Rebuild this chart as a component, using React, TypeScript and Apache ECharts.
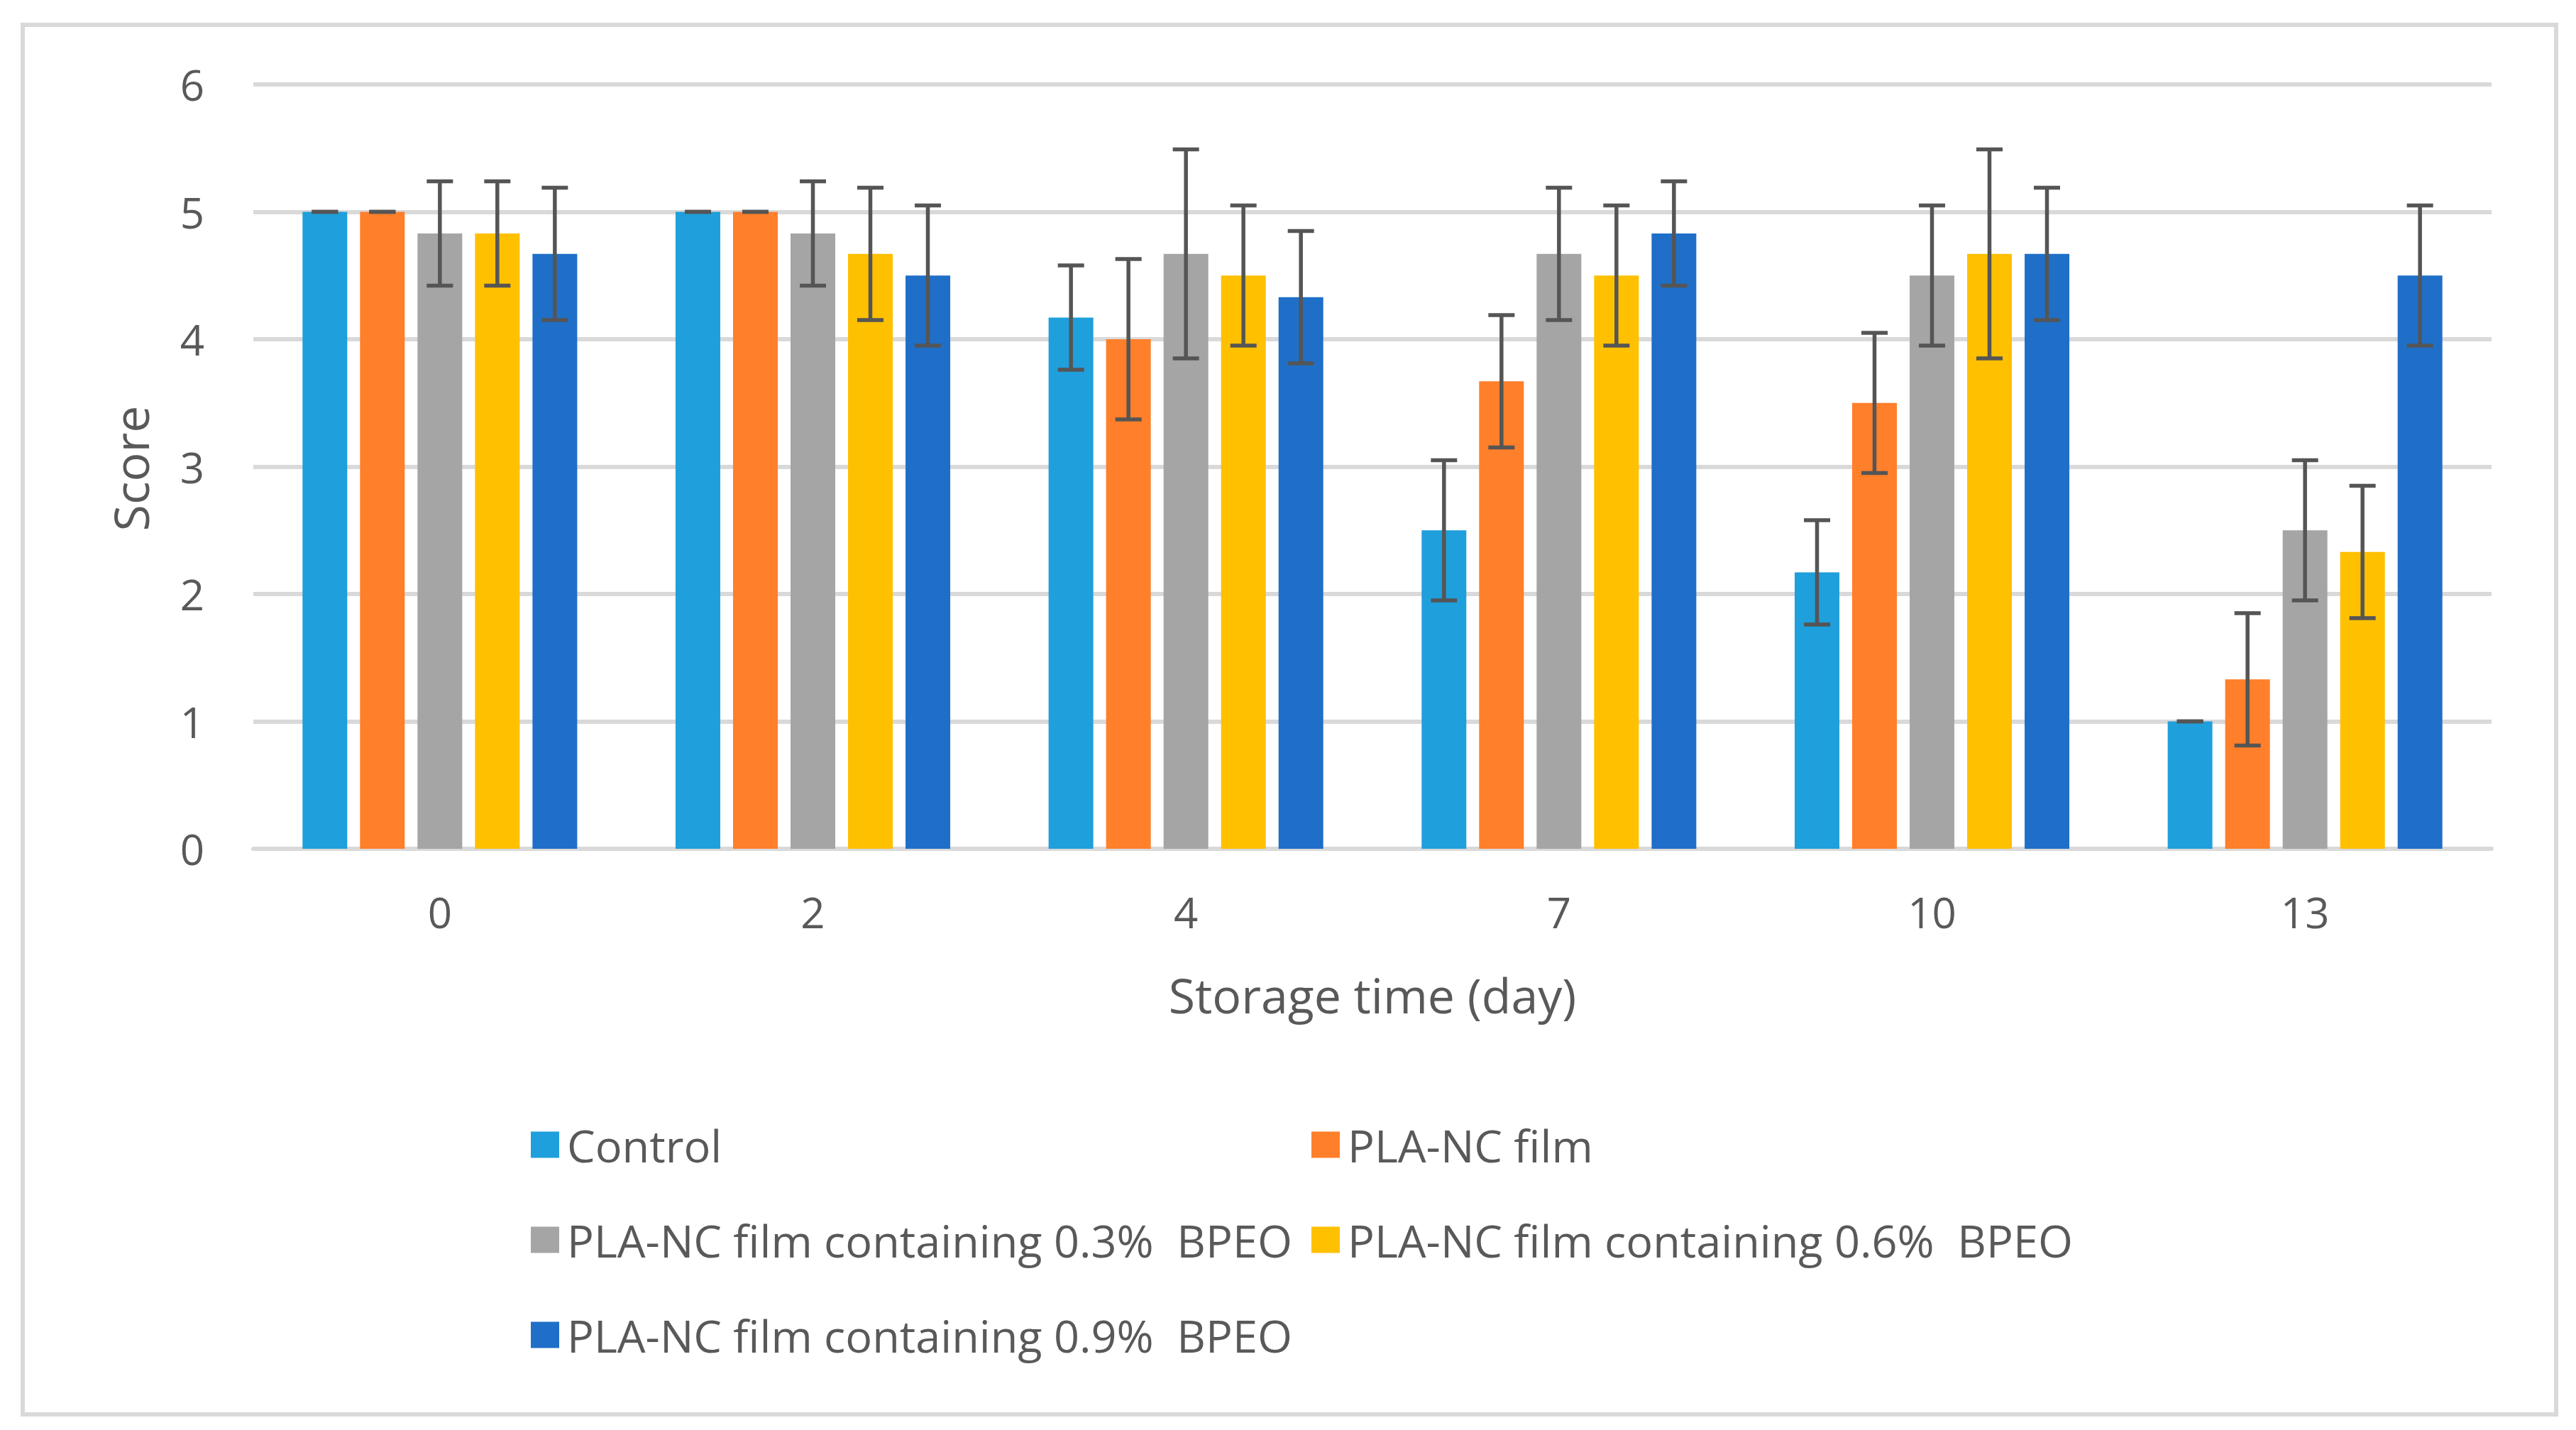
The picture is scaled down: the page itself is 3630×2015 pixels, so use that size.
import React, { useEffect, useRef } from "react";
import * as echarts from "echarts";

const categories = ["0", "2", "4", "7", "10", "13"];
const seriesNames = [
  "Control",
  "PLA-NC film",
  "PLA-NC film containing 0.3%  BPEO",
  "PLA-NC film containing 0.6%  BPEO",
  "PLA-NC film containing 0.9%  BPEO",
];
const colors = ["#1F9FDB", "#FF7F2A", "#A5A5A5", "#FFC000", "#1F6FC8"];

const control = [5, 5, 4.17, 2.5, 2.17, 1];
const controlErr = [0, 0, 0.41, 0.55, 0.41, 0];
const plaNc = [5, 5, 4, 3.67, 3.5, 1.33];
const plaNcErr = [0, 0, 0.63, 0.52, 0.55, 0.52];
const bpeo03 = [4.83, 4.83, 4.67, 4.67, 4.5, 2.5];
const bpeo03Err = [0.41, 0.41, 0.82, 0.52, 0.55, 0.55];
const bpeo06 = [4.83, 4.67, 4.5, 4.5, 4.67, 2.33];
const bpeo06Err = [0.41, 0.52, 0.55, 0.55, 0.82, 0.52];
const bpeo09 = [4.67, 4.5, 4.33, 4.83, 4.67, 4.5];
const bpeo09Err = [0.52, 0.55, 0.52, 0.41, 0.52, 0.55];

const yTicks = { min: 0, max: 6, interval: 1 };

const means = [control, plaNc, bpeo03, bpeo06, bpeo09];
const errs = [controlErr, plaNcErr, bpeo03Err, bpeo06Err, bpeo09Err];

const FONT = "'Open Sans', 'Noto Sans', sans-serif";
const TEXT = "#595959";
const GRID = "#D9D9D9";
const BAR_W = 63;
const BAR_GAP = 18;
const CAP = 37;

export default function App() {
  const ref = useRef<HTMLDivElement>(null);
  useEffect(() => {
    if (!ref.current) return;
    const chart = echarts.init(ref.current, null, { renderer: "svg" });
    const n = seriesNames.length;
    const bars = seriesNames.map((name, i) => ({
      name,
      type: "bar",
      data: means[i],
      barWidth: BAR_W,
      barGap: ((BAR_GAP / BAR_W) * 100).toFixed(1) + "%",
      itemStyle: { color: colors[i] },
      z: 2,
    }));
    const errorSeries = seriesNames.map((name, i) => {
      const offset = (i - (n - 1) / 2) * (BAR_W + BAR_GAP);
      return {
        name: name + " err",
        type: "custom",
        z: 10,
        encode: { x: 0, y: 1 },
        data: categories.map((_, k) => [k, means[i][k], errs[i][k]]),
        renderItem: (params: any, api: any) => {
          const cat = api.value(0);
          const mean = api.value(1);
          const e = api.value(2);
          const x = api.coord([cat, mean])[0] + offset;
          const yTop = api.coord([cat, mean + e])[1];
          const yBot = api.coord([cat, mean - e])[1];
          const h = CAP / 2;
          const style = { stroke: "#555555", lineWidth: 5.5 };
          return {
            type: "group",
            children: [
              { type: "line", shape: { x1: x, y1: yTop, x2: x, y2: yBot }, style },
              { type: "line", shape: { x1: x - h, y1: yTop, x2: x + h, y2: yTop }, style },
              { type: "line", shape: { x1: x - h, y1: yBot, x2: x + h, y2: yBot }, style },
            ],
          };
        },
      };
    });

    const legendCommon = {
      orient: "vertical",
      top: 1573,
      itemGap: 64,
      itemWidth: 40,
      itemHeight: 37,
      icon: "rect",
      selectedMode: false,
      textStyle: {
        fontFamily: FONT,
        fontSize: 63,
        color: TEXT,
        lineHeight: 70,
        padding: [0, 0, 0, 6],
      },
    };

    const option = {
      animation: false,
      backgroundColor: "#ffffff",
      textStyle: { fontFamily: FONT },
      grid: { left: 357, right: 119, top: 119, bottom: 819 },
      xAxis: {
        type: "category",
        data: categories,
        axisTick: { show: false },
        axisLine: { lineStyle: { color: GRID, width: 6 } },
        axisLabel: { color: TEXT, fontSize: 60, margin: 59, fontFamily: FONT },
      },
      yAxis: {
        type: "value",
        min: yTicks.min,
        max: yTicks.max,
        interval: yTicks.interval,
        axisLine: { show: false },
        axisTick: { show: false },
        splitLine: { lineStyle: { color: GRID, width: 6 } },
        axisLabel: { color: TEXT, fontSize: 60, margin: 69, fontFamily: FONT },
      },
      legend: [
        { ...legendCommon, left: 743, data: [seriesNames[0], seriesNames[2], seriesNames[4]] },
        { ...legendCommon, left: 1843, data: [seriesNames[1], seriesNames[3]] },
      ],
      graphic: [
        {
          type: "rect",
          z: -1,
          shape: { x: 32, y: 35, width: 3570, height: 1958 },
          style: { fill: "none", stroke: GRID, lineWidth: 6 },
        },
        {
          type: "text",
          x: 1934,
          y: 1401,
          style: {
            text: "Storage time (day)",
            font: `68px ${FONT}`,
            fill: TEXT,
            align: "center",
            verticalAlign: "middle",
          },
        },
        {
          type: "text",
          x: 183,
          y: 660,
          rotation: Math.PI / 2,
          style: {
            text: "Score",
            font: `68px ${FONT}`,
            fill: TEXT,
            align: "center",
            verticalAlign: "middle",
          },
        },
      ],
      series: [...bars, ...errorSeries],
    };
    chart.setOption(option as any);
    return () => chart.dispose();
  }, []);
  return (
    <div
      ref={ref}
      style={{ position: "absolute", left: 0, top: 0, width: 3630, height: 2015, background: "#fff" }}
    />
  );
}
